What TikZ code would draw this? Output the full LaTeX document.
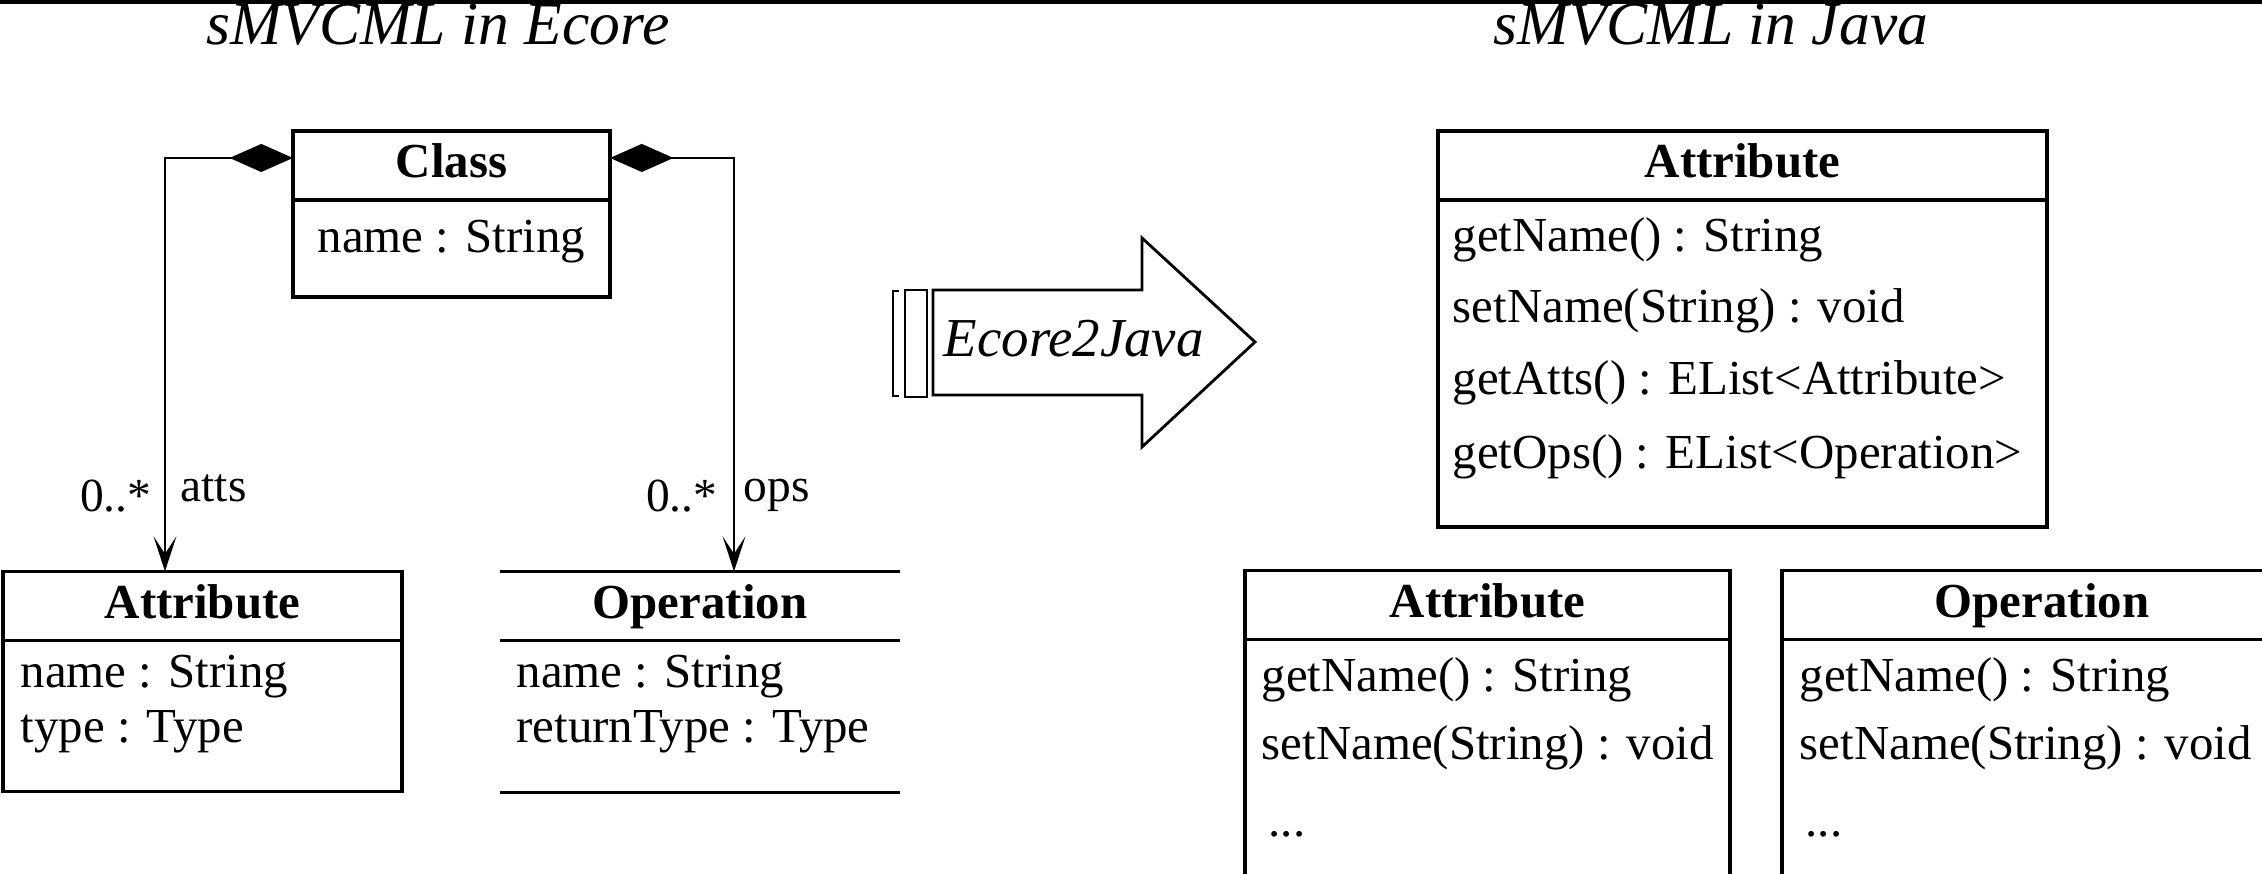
\documentclass[tikz,border=0pt]{standalone}
\usepackage{fontspec}
\setmainfont{Liberation Serif}
\usetikzlibrary{positioning,arrows.meta}

\begin{document}
\begin{tikzpicture}[x=0.01cm,y=-0.01cm,
	hdr/.style={draw,line width=1pt,inner sep=0pt,outer sep=0pt,minimum height=0.69cm,
		text height=0.35cm,text depth=0.1cm,font=\fontsize{13.9}{16}\selectfont\bfseries},
	bodybox/.style={draw,line width=1pt,inner sep=0pt,outer sep=0pt},
	member/.style={anchor=base west,inner sep=0pt,font=\fontsize{13.9}{16}\selectfont},
	heading/.style={anchor=base,inner sep=0pt,font=\fontsize{17.5}{20}\selectfont\itshape},
	role/.style={inner sep=0pt,font=\fontsize{13.5}{16}\selectfont},
	compo/.style={line width=0.6pt,{Diamond[length=18pt,width=8pt]}-{Stealth[length=10pt,width=6.5pt,inset=5pt]}}]
	\useasboundingbox (0,0) rectangle (2262,874);
	\clip (0,0) rectangle (2262,874);
	\fill[black] (0,0) rectangle (2262,4);
	
	% Ecore
	\node[heading] (ecoretitle) at (438,45) {sMVCML in Ecore};
	\node[hdr,minimum width=3.17cm] (clshead) at (451.5,165.5) {Class};
	\node[bodybox,minimum width=3.17cm,minimum height=0.97cm,below=0pt of clshead] (clsbody) {};
	\node[member] (clsname) at (317,253) {name : String};
	
	\node[hdr,minimum width=3.99cm] (eatthead) at (202.5,606) {Attribute};
	\node[bodybox,minimum width=3.99cm,minimum height=1.51cm,below=0pt of eatthead] (eattbody) {};
	\node[member] (eattname) at (20,688) {name : String};
	\node[member] (eatttype) at (20,743) {type : Type};
	
	\node[hdr,draw=none,minimum width=4cm] (eophead) at (700,606) {Operation};
	\node[bodybox,draw=none,minimum width=4cm,minimum height=1.52cm,below=0pt of eophead] (eopbody) {};
	\draw[line width=1pt][black] (eophead.north west) -- (eophead.north east)
	(eophead.south west) -- (eophead.south east)
	(eopbody.south west) -- (eopbody.south east);
	\node[member] (eopname) at (516,688) {name : String};
	\node[member] (eopret) at (516,743) {returnType : Type};
	
	\draw[compo] ([yshift=0.075cm]clshead.west) -| ([xshift=-0.375cm]eatthead.north);
	\draw[compo] ([yshift=0.075cm]clshead.east) -| ([xshift=0.34cm]eophead.north);
	\node[role,anchor=base east] (attsmult) at (152,512) {0..*};
	\node[role,anchor=base west] (attsname) at (180,502) {atts};
	\node[role,anchor=base east] (opsmult) at (718,512) {0..*};
	\node[role,anchor=base west] (opsname) at (743,502) {ops};
	
	% transformation
	\draw[line width=0.8pt][black] (899,291) -- (893,291) -- (893,396) -- (899,396);
	\draw[line width=0.8pt][black] (905,290) rectangle (927,397);
	\draw[line width=0.8pt][black] (933,290) -- (1142,290) -- (1142,238) -- (1255,342)
	-- (1142,447) -- (1142,395) -- (933,395) -- cycle;
	\node[anchor=base west,inner sep=0pt,font=\fontsize{15.6}{18}\selectfont\itshape] (trafo) at (943,357) {Ecore2Java};
	
	% Java
	\node[heading] (javatitle) at (1711,45) {sMVCML in Java};
	\node[hdr,minimum width=6.09cm] (jatthead) at (1742.5,165.5) {Attribute};
	\node[bodybox,minimum width=6.09cm,minimum height=3.27cm,below=0pt of jatthead] (jattbody) {};
	\node[member] (jattget) at (1452,252) {getName() : String};
	\node[member] (jattset) at (1452,323) {setName(String) : void};
	\node[member] (jattatts) at (1452,395) {getAtts() : EList<Attribute>};
	\node[member] (jattops) at (1452,469) {getOps() : EList<Operation>};
	
	\node[hdr,minimum width=4.85cm] (jatt2head) at (1487.5,605) {Attribute};
	\node[bodybox,minimum width=4.85cm,minimum height=2.7cm,below=0pt of jatt2head] (jatt2body) {};
	\node[member] (jatt2get) at (1261,692) {getName() : String};
	\node[member] (jatt2set) at (1261,760) {setName(String) : void};
	\node[member] (jatt2more) at (1268,837) {...};
	
	\node[hdr,minimum width=5.2cm] (jophead) at (2042,605) {Operation};
	\node[bodybox,minimum width=5.2cm,minimum height=2.7cm,below=0pt of jophead] (jopbody) {};
	\node[member] (jopget) at (1799,692) {getName() : String};
	\node[member] (jopset) at (1799,760) {setName(String) : void};
	\node[member] (jopmore) at (1805,837) {...};
\end{tikzpicture}
\end{document}
